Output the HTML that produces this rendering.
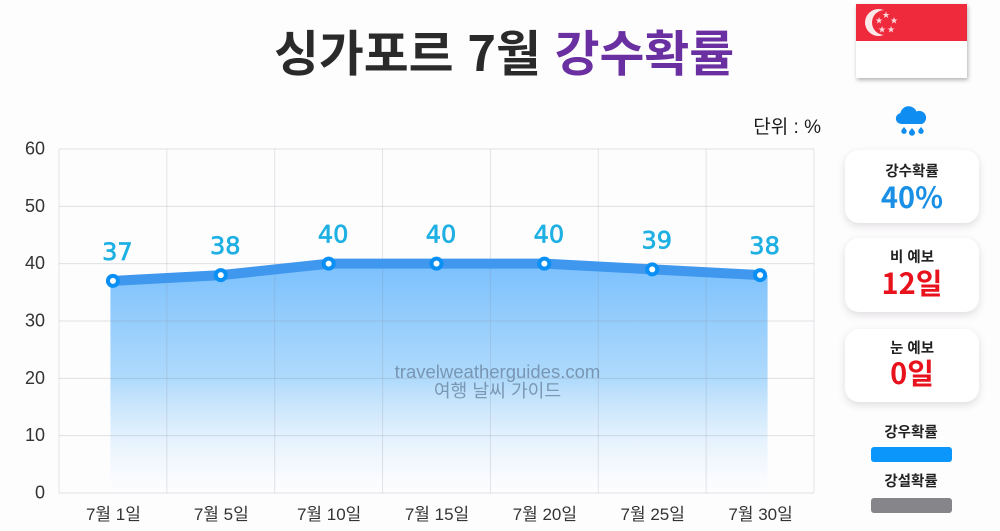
<!DOCTYPE html>
<html lang="ko">
<head>
<meta charset="utf-8">
<title>싱가포르 7월 강수확률</title>
<style>
html,body{margin:0;padding:0;}
body{width:1000px;height:531px;overflow:hidden;background:#fefdfe;position:relative;font-family:"Liberation Sans","Noto Sans CJK KR",sans-serif;}
.abs{position:absolute;white-space:nowrap;}
.card{position:absolute;left:845px;width:134px;height:73px;background:#fff;border-radius:14px;box-shadow:0 3px 9px rgba(0,0,0,.13);text-align:center;}
.card .t{position:absolute;left:0;right:0;top:9px;font:700 14.500px/20px "Noto Sans CJK KR",sans-serif;color:#222;}
.card .v{position:absolute;left:0;right:0;top:26px;font:700 29px/36px "Noto Sans CJK KR",sans-serif;}
#chart{position:absolute;left:0;top:0;}
</style>
</head>
<body>
<div class="abs" style="left:274px;top:16px;font:700 48.800px/70px 'Noto Sans CJK KR',sans-serif;color:#2a2a2a;"><span>싱가포르 7월</span> <span style="color:#6a2fa0;">강수확률</span></div>

<svg class="abs" style="left:856px;top:4px;filter:drop-shadow(1px 2px 2px rgba(0,0,0,.3));" width="111" height="74" viewBox="0 0 111 74">
  <rect width="111" height="37" fill="#ee2a3c"/>
  <rect y="37" width="111" height="37" fill="#fff"/>
  <circle cx="22.500" cy="18.500" r="13.500" fill="#fbe9ea"/>
  <circle cx="28.500" cy="18.500" r="12.500" fill="#ee2a3c"/>
  <g fill="#fbd9dc" font-size="9" text-anchor="middle" font-family="'DejaVu Sans',sans-serif">
    <text x="30" y="14">★</text><text x="23" y="19.500">★</text><text x="38" y="19.500">★</text><text x="26" y="28.500">★</text><text x="35" y="28.500">★</text>
  </g>
</svg>

<svg class="abs" style="left:895px;top:105px;" width="34" height="32" viewBox="0 0 34 32">
  <path d="M6.500 19a5.500 5.500 0 0 1-1.200-10.900A8.500 8.500 0 0 1 21.500 6.500a6.500 6.500 0 0 1 5.500 12.500z" fill="#0f8df0"/>
  <path d="M9 22c1.800 2.200 2.700 3.200 2.700 4.200a2.700 2.700 0 0 1-5.400 0c0-1 .9-2 2.700-4.200z" fill="#0f8df0"/>
  <path d="M17 23c2 2.400 3 3.500 3 4.800a3 3 0 0 1-6 0c0-1.300 1-2.400 3-4.800z" fill="#0f8df0"/>
  <path d="M26 22c1.800 2.200 2.700 3.200 2.700 4.200a2.700 2.700 0 0 1-5.400 0c0-1 .9-2 2.700-4.200z" fill="#0f8df0"/>
</svg>

<div class="card" style="top:150px;">
  <div class="t" style="top:11px;">강수확률</div>
  <div class="v" style="top:28px;color:#1a8fe6;">40%</div>
</div>
<div class="card" style="top:238px;height:74px;">
  <div class="t">비 예보</div>
  <div class="v" style="color:#e8121c;">12일</div>
</div>
<div class="card" style="top:329px;">
  <div class="t">눈 예보</div>
  <div class="v" style="top:25px;color:#e8121c;">0일</div>
</div>

<div class="abs" style="left:871px;width:80px;text-align:center;top:422px;font:700 14.500px/20px 'Noto Sans CJK KR',sans-serif;color:#222;">강우확률</div>
<div class="abs" style="left:871px;top:447px;width:81px;height:15px;border-radius:3px;background:#0a96fb;"></div>
<div class="abs" style="left:871px;width:80px;text-align:center;top:471px;font:700 14.500px/20px 'Noto Sans CJK KR',sans-serif;color:#222;">강설확률</div>
<div class="abs" style="left:871px;top:498px;width:81px;height:15px;border-radius:3px;background:#86858a;"></div>

<svg id="chart" width="1000" height="531" viewBox="0 0 1000 531" xmlns="http://www.w3.org/2000/svg">
  <defs>
    <linearGradient id="areaFill" x1="0" y1="0" x2="0" y2="1">
      <stop offset="0" stop-color="#74bdfd" stop-opacity=".95"/>
      <stop offset="0.5" stop-color="#a6d6fb" stop-opacity=".9"/>
      <stop offset="1" stop-color="#d8ecfc" stop-opacity="0"/>
    </linearGradient>
  </defs>
</svg>

<script>
const categories = ['7월 1일','7월 5일','7월 10일','7월 15일','7월 20일','7월 25일','7월 30일'];
const rainValues = [37,38,40,40,40,39,38];
const yTicks = [0,10,20,30,40,50,60];

const svg = document.getElementById('chart');
const NS = 'http://www.w3.org/2000/svg';
const plotL = 59, plotR = 814, plotT = 149, plotB = 493, yMax = 60;
const bandW = (plotR - plotL) / categories.length;
function xPos(i){ return plotL + bandW * (i + 0.5) + 0.5; }
function yPos(v){ return plotB - (v / yMax) * (plotB - plotT); }
function make(tag, attrs){
  const el = document.createElementNS(NS, tag);
  for (const k in attrs) el.setAttribute(k, attrs[k]);
  return el;
}

/* area */
let areaD = 'M' + (xPos(0) - 3) + ' ' + yPos(rainValues[0]);
rainValues.forEach(function(v, i){ areaD += ' L' + xPos(i) + ' ' + yPos(v); });
areaD += ' L' + (xPos(rainValues.length - 1) + 7) + ' ' + yPos(rainValues[rainValues.length - 1]);
areaD += ' L' + (xPos(rainValues.length - 1) + 7) + ' ' + plotB + ' L' + (xPos(0) - 3) + ' ' + plotB + ' Z';
const area = make('path', {d:areaD, fill:'url(#areaFill)'});


svg.appendChild(area);

/* grid */
yTicks.forEach(function(t){
  const line = make('line', {x1:plotL, x2:plotR, y1:yPos(t), y2:yPos(t), stroke:'#8a8a96', 'stroke-opacity':'.25', 'stroke-width':1});
  
  
  svg.appendChild(line);
  const label = make('text', {x:45, y:yPos(t)+5.5, 'text-anchor':'end', 'font-size':18, fill:'#333', 'font-family':'"Liberation Sans",sans-serif'});
  label.textContent = t;
  
  
  svg.appendChild(label);
});
for (let i = 0; i <= categories.length; i++) {
  const gx = plotL + bandW * i;
  const line = make('line', {x1:gx, x2:gx, y1:plotT, y2:plotB, stroke:'#8a8a96', 'stroke-opacity':'.22', 'stroke-width':1});
  
  
  svg.appendChild(line);
}

/* line */
const linePts = rainValues.map(function(v, i){ return xPos(i) + ',' + yPos(v); }).join(' ');
const seriesLine = make('polyline', {points:linePts, fill:'none', stroke:'#3f97ee', 'stroke-width':10});


svg.appendChild(seriesLine);

/* points and value labels */
rainValues.forEach(function(v, i){
  const dot = make('circle', {cx:xPos(i)-0.5, cy:yPos(v), r:5, fill:'#fff', stroke:'#0a8ff5', 'stroke-width':4});
  
  
  svg.appendChild(dot);
  const val = make('text', {x:xPos(i)+4, y:yPos(v)-21, 'text-anchor':'middle', 'font-size':24, fill:'#1fb0e3', stroke:'#1fb0e3', 'stroke-width':'.7', 'font-family':'"DejaVu Sans",sans-serif'});
  val.textContent = v;
  
  
  svg.appendChild(val);
});

/* x labels */
categories.forEach(function(c, i){
  const label = make('text', {x:xPos(i), y:520, 'text-anchor':'middle', 'font-size':17, fill:'#333', 'font-family':'"Liberation Sans","Noto Sans CJK KR",sans-serif'});
  label.textContent = c;
  
  
  svg.appendChild(label);
});

/* unit + watermark */
const unit = make('text', {x:821, y:133, 'text-anchor':'end', 'font-size':19, fill:'#1c1c1c', 'font-family':'"Liberation Sans","Noto Sans CJK KR",sans-serif'});
unit.textContent = '단위 : %';


svg.appendChild(unit);

const wm1 = make('text', {x:497.500, y:378, 'text-anchor':'middle', 'font-size':18.500, fill:'#6f8ba6', 'fill-opacity':'.85', 'font-family':'"Liberation Sans",sans-serif'});
wm1.textContent = 'travelweatherguides.com';


svg.appendChild(wm1);

const wm2 = make('text', {x:497.500, y:397, 'text-anchor':'middle', 'font-size':18.200, fill:'#6f8ba6', 'fill-opacity':'.85', 'font-family':'"Noto Sans CJK KR",sans-serif'});
wm2.textContent = '여행 날씨 가이드';


svg.appendChild(wm2);
</script>
</body>
</html>
